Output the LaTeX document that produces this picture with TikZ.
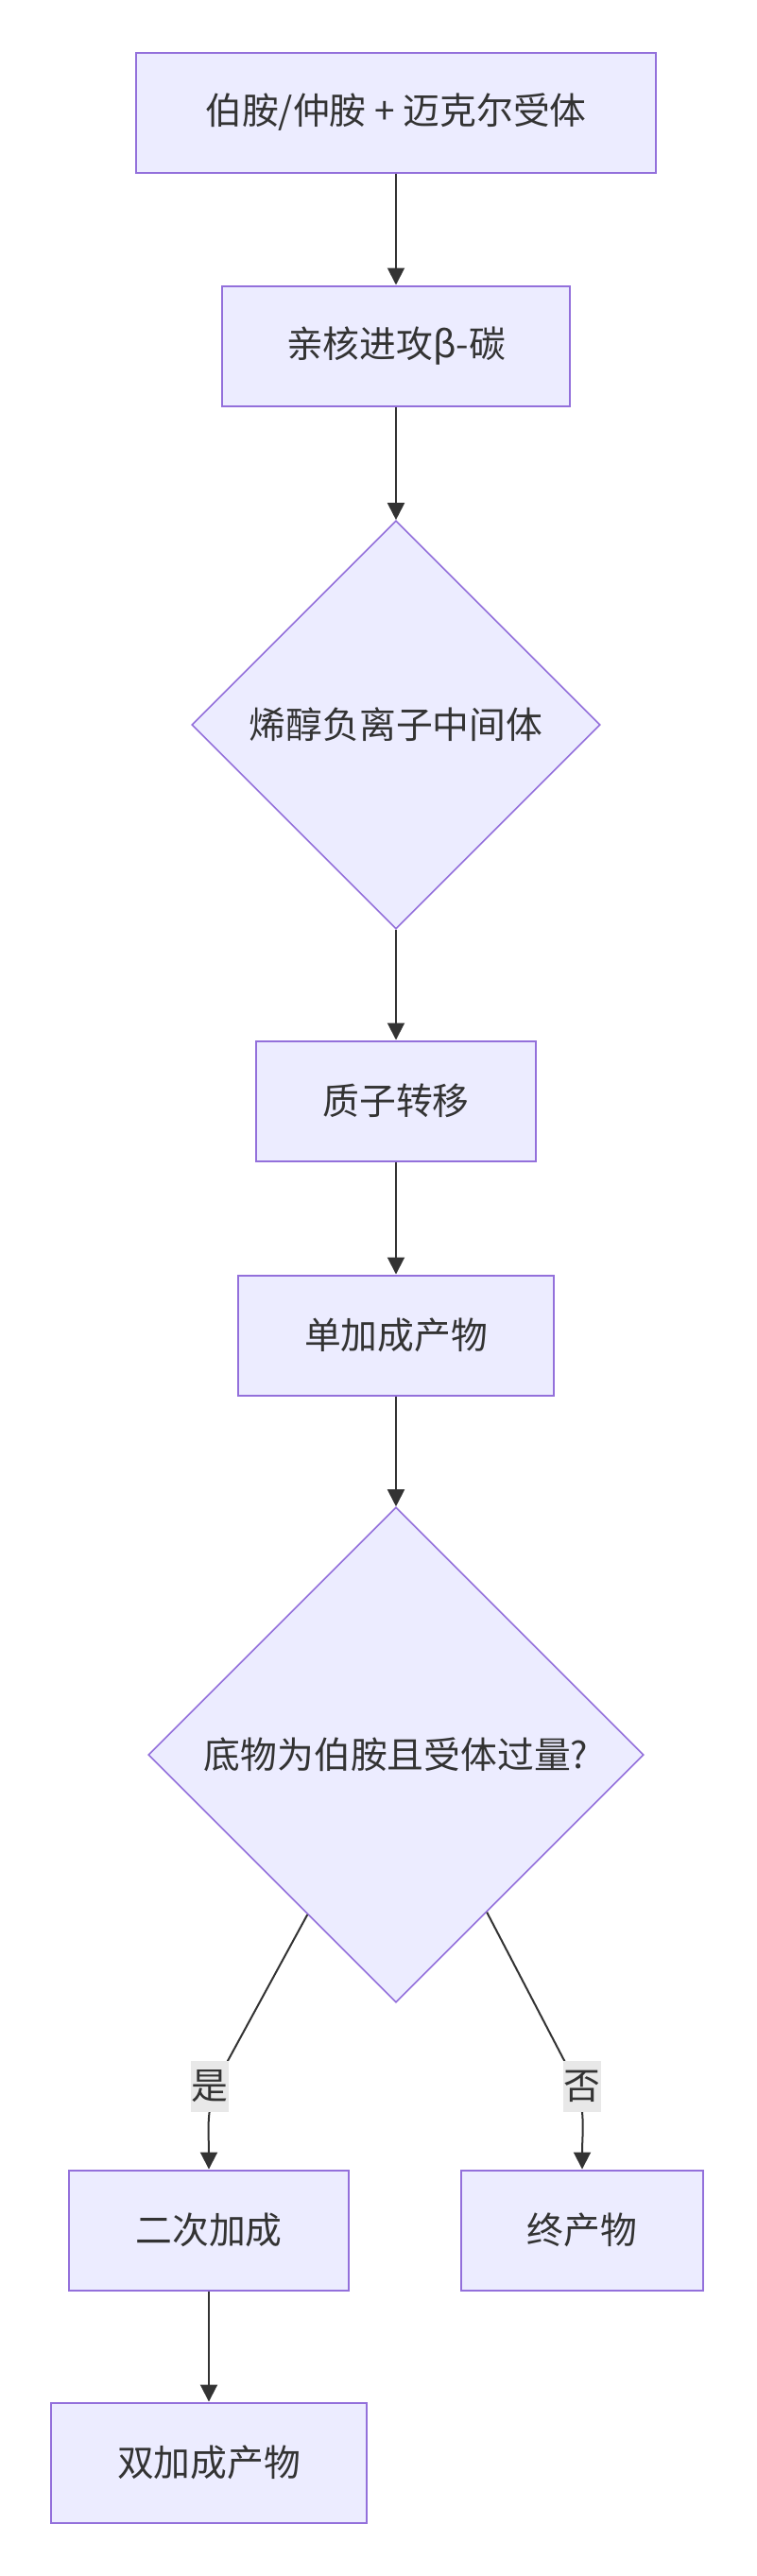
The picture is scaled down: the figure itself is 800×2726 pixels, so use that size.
\documentclass[tikz,border=0pt]{standalone}
\usepackage{fontspec}
\setmainfont{Noto Sans CJK SC}
\usepackage{tikz}
\usetikzlibrary{shapes.geometric,arrows.meta}
\definecolor{nodefill}{HTML}{ECECFF}
\definecolor{nodeline}{HTML}{9370DB}
\definecolor{edgeline}{HTML}{333333}
\definecolor{lblfill}{HTML}{E8E8E8}

\begin{document}
\begin{tikzpicture}[x=0.5pt, y=-0.5pt]

\tikzstyle{every node} = [text=edgeline, font=\fontsize{19.4}{23}\selectfont, inner sep=0pt]
\tikzstyle{box} = [rectangle, draw=nodeline, fill=nodefill, line width=1pt, minimum height=63.5pt]
\tikzstyle{choice} = [diamond, aspect=1, draw=nodeline, fill=nodefill, line width=0.8pt]
\tikzstyle{edge} = [draw=edgeline, line width=1pt, -{Triangle[length=9pt, width=9pt]}]
\tikzstyle{lbl} = [fill=lblfill, inner xsep=0.5pt, inner ysep=5pt]

\useasboundingbox (0,0) rectangle (800,2726);

\node[box, minimum width=275pt] (a) at (419,119) {伯胺/仲胺 + 迈克尔受体};
\node[box, minimum width=184pt] (b) at (419,366) {亲核进攻β-碳};
\node[choice, minimum width=216pt, minimum height=216pt] (c) at (419,767) {烯醇负离子中间体};
\node[box, minimum width=148pt] (d) at (419,1165) {质子转移};
\node[box, minimum width=167pt] (e) at (419,1413) {单加成产物};
\node[choice, minimum width=262pt, minimum height=262pt] (f) at (419,1857) {底物为伯胺且受体过量?};

\node[box, minimum width=148pt] (g) at (221,2360) {二次加成};
\node[box, minimum width=128pt] (h) at (616,2360) {终产物};
\node[box, minimum width=167pt] (k) at (221,2606) {双加成产物};

\coordinate (gb) at (236,2190);
\coordinate (hb) at (602,2190);

\draw[edge] (a) -- (b);
\draw[edge] (b) -- (c);
\draw[edge] (c) -- (d);
\draw[edge] (d) -- (e);
\draw[edge] (e) -- (f);
\draw[edge] (f.241) -- (gb) to[out=-118, in=90] (g.north);
\draw[edge] (f.-60) -- (hb) to[out=-62, in=90] (h.north);
\draw[edge] (g) -- (k);

\node[lbl] (yes) at (222,2208) {是};
\node[lbl] (no) at (616,2208) {否};

\end{tikzpicture}
\end{document}
